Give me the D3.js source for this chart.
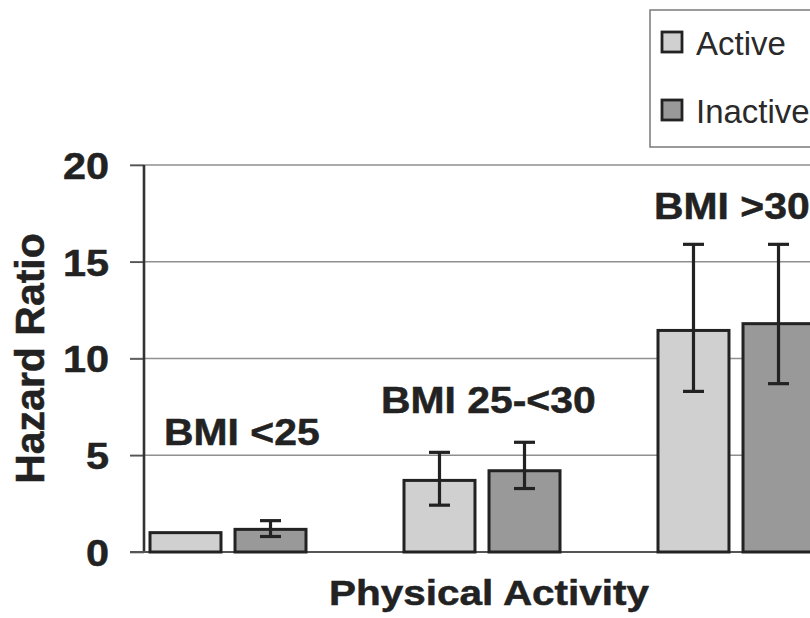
<!DOCTYPE html>
<html>
<head>
<meta charset="utf-8">
<script src="https://cdn.jsdelivr.net/npm/d3@7"></script>
<style>
  html, body { margin: 0; padding: 0; background: #fff; }
  svg { display: block; }
  text { font-family: "Liberation Sans", Arial, Helvetica, sans-serif; }
</style>
</head>
<body>
<svg id="chart" width="810" height="618"></svg>
<script>
// ---- data ----
const groups = ["BMI <25", "BMI 25-<30", "BMI >30"];
const seriesNames = ["Active", "Inactive"];
const activeHR = [1.0, 3.7, 11.45];
const inactiveHR = [1.17, 4.2, 11.8];
const activeLow = [null, 2.42, 8.3];
const activeHigh = [null, 5.15, 15.9];
const inactiveLow = [0.8, 3.28, 8.7];
const inactiveHigh = [1.62, 5.67, 15.9];
const yTicks = [0, 5, 10, 15, 20];
const yTitle = "Hazard Ratio";
const xTitle = "Physical Activity";

// ---- layout ----
const svg = d3.select("#chart");
const axisX = 144, plotTop = 165, plotBottom = 552, rightEdge = 810;
const colors = { Active: "#d0d0d0", Inactive: "#999999" };
const ink = "#222";

const y = d3.scaleLinear().domain([0, 20]).range([plotBottom, plotTop]);
const x0 = d3.scaleBand().domain(groups).range([101, 863]).paddingInner(0).paddingOuter(0);
const x1 = d3.scaleBand().domain(seriesNames).range([0, 156]).paddingInner(0.165).paddingOuter(0);
const groupStart = g => x0(g) + x0.bandwidth() / 2 - 78;

const rows = [];
groups.forEach((g, i) => {
  rows.push({ g, s: "Active", v: activeHR[i], lo: activeLow[i], hi: activeHigh[i] });
  rows.push({ g, s: "Inactive", v: inactiveHR[i], lo: inactiveLow[i], hi: inactiveHigh[i] });
});

// gridlines (extend left as tick marks)
svg.append("g").selectAll("line").data(yTicks.filter(t => t > 0)).join("line")
  .attr("x1", 130).attr("x2", rightEdge)
  .attr("y1", d => y(d)).attr("y2", d => y(d))
  .attr("stroke", "#8f8f8f").attr("stroke-width", 1.6);

// y axis with labels
const yAxis = d3.axisLeft(y).tickValues(yTicks).tickSize(14).tickPadding(0).tickFormat(d3.format("d"));
const ya = svg.append("g").attr("transform", `translate(${axisX},0)`).call(yAxis);
ya.select(".domain").remove();
ya.selectAll(".tick line").attr("stroke", "#555").attr("stroke-width", 1.6);
ya.selectAll(".tick text")
  .attr("x", 0).attr("dy", "0.36em")
  .attr("transform", "translate(-35,0) scale(1.12,1)")
  .attr("text-anchor", "end")
  .attr("font-size", 37).attr("font-weight", "bold").attr("fill", ink)
  .attr("stroke", ink).attr("stroke-width", 0.5);

// axis lines
svg.append("line").attr("x1", axisX).attr("x2", axisX).attr("y1", plotTop).attr("y2", plotBottom)
  .attr("stroke", "#333").attr("stroke-width", 2.6);
svg.append("line").attr("x1", 130).attr("x2", rightEdge).attr("y1", plotBottom).attr("y2", plotBottom)
  .attr("stroke", "#555").attr("stroke-width", 2.2);

// bars
svg.append("g").selectAll("rect").data(rows).join("rect")
  .attr("x", d => groupStart(d.g) + x1(d.s))
  .attr("width", x1.bandwidth())
  .attr("y", d => y(d.v))
  .attr("height", d => y(0) - y(d.v))
  .attr("fill", d => colors[d.s])
  .attr("stroke", ink).attr("stroke-width", 3);

// error bars
const eb = svg.append("g").selectAll("g").data(rows.filter(d => d.lo != null)).join("g")
  .attr("stroke", ink).attr("stroke-width", 3.2);
const cx = d => groupStart(d.g) + x1(d.s) + x1.bandwidth() / 2;
eb.append("line").attr("x1", cx).attr("x2", cx).attr("y1", d => y(d.lo)).attr("y2", d => y(d.hi));
eb.append("line").attr("x1", d => cx(d) - 10.5).attr("x2", d => cx(d) + 10.5).attr("y1", d => y(d.hi)).attr("y2", d => y(d.hi));
eb.append("line").attr("x1", d => cx(d) - 10.5).attr("x2", d => cx(d) + 10.5).attr("y1", d => y(d.lo)).attr("y2", d => y(d.lo));

// group labels
const labelOffsets = [{ dx: 14, yy: 445 }, { dx: -23, yy: 413 }, { dx: -4, yy: 219 }];
svg.append("g").selectAll("text").data(groups).join("text")
  .attr("transform", (g, i) => `translate(${groupStart(g) + labelOffsets[i].dx},${labelOffsets[i].yy}) scale(1.12,1)`)
  .attr("font-size", 36.5).attr("font-weight", "bold").attr("fill", ink)
  .attr("stroke", ink).attr("stroke-width", 0.5)
  .text(d => d);

// axis titles
svg.append("text")
  .attr("transform", `translate(44,${(plotTop + plotBottom) / 2}) rotate(-90)`)
  .attr("text-anchor", "middle").attr("font-size", 41).attr("font-weight", "bold").attr("fill", ink)
  .attr("stroke", ink).attr("stroke-width", 0.5)
  .text(yTitle);
svg.append("text")
  .attr("transform", `translate(489,605) scale(1.14,1)`)
  .attr("text-anchor", "middle").attr("font-size", 35.5).attr("font-weight", "bold").attr("fill", ink)
  .attr("stroke", ink).attr("stroke-width", 0.5)
  .text(xTitle);

// legend
const lg = svg.append("g");
lg.append("rect").attr("x", 650).attr("y", 10).attr("width", 200).attr("height", 137)
  .attr("fill", "#fff").attr("stroke", "#7a7a7a").attr("stroke-width", 1.5);
const li = lg.selectAll("g.item").data(seriesNames).join("g").attr("class", "item")
  .attr("transform", (d, i) => `translate(662,${32 + i * 68})`);
li.append("rect").attr("width", 20).attr("height", 20)
  .attr("fill", d => colors[d]).attr("stroke", ink).attr("stroke-width", 2.8);
li.append("text").attr("x", 34).attr("y", 23)
  .attr("font-size", 33).attr("fill", "#2a2a2a").text(d => d);
</script>
</body>
</html>
